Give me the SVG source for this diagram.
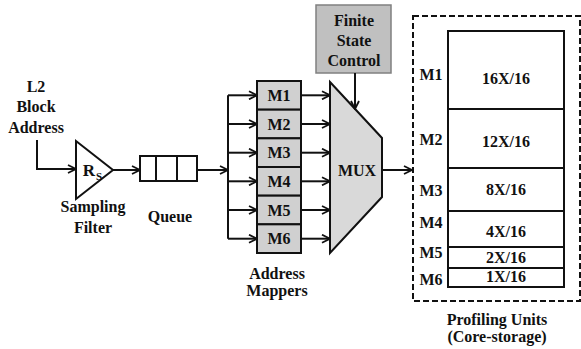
<svg xmlns="http://www.w3.org/2000/svg" width="581" height="349" viewBox="0 0 581 349">
<defs>
<style>
text{font-family:'Liberation Serif','Times New Roman',serif;font-weight:700;font-size:16px;fill:#111;text-anchor:middle}
.ln{fill:none;stroke:#111;stroke-width:2}
.box{stroke:#111;stroke-width:2}
.m{font-size:16px}
</style>
<marker id="arr" viewBox="0 0 10 10" refX="9" refY="5" markerWidth="10" markerHeight="10" markerUnits="userSpaceOnUse" orient="auto">
<path d="M1,1 L9,5 L1,9" fill="none" stroke="#111" stroke-width="1.8"/>
</marker>
</defs>
<rect width="581" height="349" fill="#fff"/>
<g font-family="Liberation Serif, serif" font-weight="bold">
<g id="input-label">
<text x="36" y="92">L2</text>
<text x="36" y="112">Block</text>
<text x="36" y="133">Address</text>
</g>

<g id="sampling-filter">
<polygon points="76,141 113,170 76,199" fill="#fff" class="box"/>
<text x="89" y="176" style="font-size:17px">R</text>
<text x="99" y="180" style="font-size:11px">S</text>
<text x="93" y="212">Sampling</text>
<text x="93" y="233">Filter</text>
</g>

<g id="queue">
<rect x="140" y="156" width="57" height="25" fill="#fff" class="box"/>
<line x1="156" y1="156" x2="156" y2="181" class="ln"/>
<line x1="177" y1="156" x2="177" y2="181" class="ln"/>
<text x="170" y="222">Queue</text>
</g>

<g id="address-mappers">
<rect x="257" y="81" width="44" height="28.67" fill="#d0d0d0" class="box"/>
<rect x="257" y="109.67" width="44" height="28.67" fill="#d0d0d0" class="box"/>
<rect x="257" y="138.33" width="44" height="28.67" fill="#d0d0d0" class="box"/>
<rect x="257" y="167" width="44" height="28.67" fill="#d0d0d0" class="box"/>
<rect x="257" y="195.67" width="44" height="28.67" fill="#d0d0d0" class="box"/>
<rect x="257" y="224.33" width="44" height="28.67" fill="#d0d0d0" class="box"/>
<text class="m" x="279" y="101">M1</text>
<text class="m" x="279" y="129.5">M2</text>
<text class="m" x="279" y="158">M3</text>
<text class="m" x="279" y="187">M4</text>
<text class="m" x="279" y="215.5">M5</text>
<text class="m" x="279" y="244">M6</text>
<text x="277" y="279">Address</text>
<text x="277" y="296">Mappers</text>
</g>

<g id="fsc">
<rect x="316" y="5" width="75" height="68" fill="#c0c0c0" stroke="#808080" stroke-width="1.5"/>
<text x="354" y="26">Finite</text>
<text x="354" y="46">State</text>
<text x="354" y="66">Control</text>
</g>

<g id="mux">
<polygon points="330,82 382,138 382,197 330,253" fill="#d9d9d9" class="box"/>
<text x="357" y="176">MUX</text>
</g>

<g id="profiling-units">
<rect x="413" y="16" width="167" height="285" fill="none" stroke="#111" stroke-width="2" stroke-dasharray="6,3"/>
<rect x="448" y="31" width="116" height="256" fill="#fff" class="box"/>
<line x1="448" y1="109" x2="564" y2="109" class="ln"/>
<line x1="448" y1="168" x2="564" y2="168" class="ln"/>
<line x1="448" y1="211" x2="564" y2="211" class="ln"/>
<line x1="448" y1="247" x2="564" y2="247" class="ln"/>
<line x1="448" y1="268" x2="564" y2="268" class="ln"/>
<text x="506" y="84">16X/16</text>
<text x="506" y="147">12X/16</text>
<text x="506" y="195">8X/16</text>
<text x="506" y="237">4X/16</text>
<text x="506" y="263">2X/16</text>
<text x="506" y="282">1X/16</text>
<text x="431" y="80">M1</text>
<text x="431" y="145">M2</text>
<text x="431" y="196">M3</text>
<text x="431" y="228">M4</text>
<text x="431" y="258">M5</text>
<text x="431" y="285">M6</text>
<text x="497" y="325">Profiling Units</text>
<text x="497" y="342">(Core-storage)</text>
</g>
</g>
<g id="connectors">
<polyline points="37,140 37,169 76,169" class="ln" marker-end="url(#arr)"/>
<line x1="113" y1="170" x2="140" y2="170" class="ln" marker-end="url(#arr)"/>
<line x1="197" y1="170" x2="228" y2="170" class="ln" marker-end="url(#arr)"/>
<line x1="228" y1="95.3" x2="228" y2="238.7" class="ln"/>
<line x1="228" y1="95.3" x2="257" y2="95.3" class="ln" marker-end="url(#arr)"/>
<line x1="228" y1="124" x2="257" y2="124" class="ln" marker-end="url(#arr)"/>
<line x1="228" y1="152.7" x2="257" y2="152.7" class="ln" marker-end="url(#arr)"/>
<line x1="228" y1="181.3" x2="257" y2="181.3" class="ln" marker-end="url(#arr)"/>
<line x1="228" y1="210" x2="257" y2="210" class="ln" marker-end="url(#arr)"/>
<line x1="228" y1="238.7" x2="257" y2="238.7" class="ln" marker-end="url(#arr)"/>
<line x1="301" y1="95.3" x2="330" y2="95.3" class="ln" marker-end="url(#arr)"/>
<line x1="301" y1="124" x2="330" y2="124" class="ln" marker-end="url(#arr)"/>
<line x1="301" y1="152.7" x2="330" y2="152.7" class="ln" marker-end="url(#arr)"/>
<line x1="301" y1="181.3" x2="330" y2="181.3" class="ln" marker-end="url(#arr)"/>
<line x1="301" y1="210" x2="330" y2="210" class="ln" marker-end="url(#arr)"/>
<line x1="301" y1="238.7" x2="330" y2="238.7" class="ln" marker-end="url(#arr)"/>
<line x1="355" y1="73" x2="355" y2="109" class="ln" marker-end="url(#arr)"/>
<line x1="382" y1="170" x2="412" y2="170" class="ln" marker-end="url(#arr)"/>
</g>
</svg>
